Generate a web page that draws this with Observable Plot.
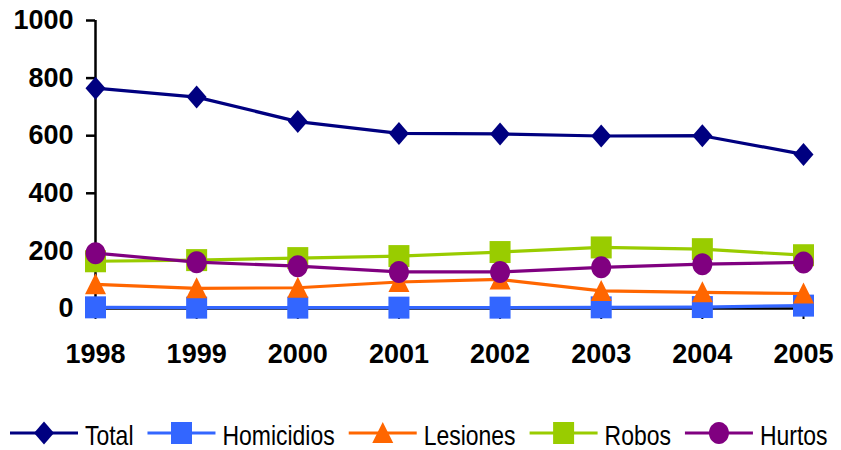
<!DOCTYPE html>
<html>
<head>
<meta charset="utf-8">
<script src="https://cdn.jsdelivr.net/npm/d3@7"></script>
<script src="https://cdn.jsdelivr.net/npm/@observablehq/plot@0.6"></script>
<style>
  html, body { margin: 0; padding: 0; background: #fff; }
  #chart { width: 841px; height: 450px; overflow: hidden; }
  #chart svg { display: block; }
</style>
</head>
<body>
<div id="chart"></div>
<script>
const years = [1998, 1999, 2000, 2001, 2002, 2003, 2004, 2005];
const seriesNames = ["Total", "Homicidios", "Lesiones", "Robos", "Hurtos"];
const total      = [765, 734, 649, 608, 606, 599, 600, 535];
const homicidios = [4, 3, 3, 3, 3, 4, 5, 10];
const lesiones   = [84, 70, 72, 92, 101, 61, 56, 52];
const robos      = [164, 168, 175, 182, 196, 212, 206, 185];
const hurtos     = [192, 161, 147, 127, 127, 143, 154, 160];
const yTicks = [0, 200, 400, 600, 800, 1000];

const seriesValues = [total, homicidios, lesiones, robos, hurtos];
const colors = ["#000080", "#3366FF", "#FF6600", "#99CC00", "#800080"];

// custom marker shapes (slightly taller than wide, as in the original)
const diamond = { draw(c) { c.moveTo(0, -11.5); c.lineTo(10, 0); c.lineTo(0, 11.5); c.lineTo(-10, 0); c.closePath(); } };
const square = { draw(c) { c.rect(-10.5, -11, 21, 22); } };
const triangle = { draw(c) { c.moveTo(0, -11); c.lineTo(10.5, 10); c.lineTo(-10.5, 10); c.closePath(); } };
const ellipse = { draw(c) {
  const rx = 10, ry = 11, k = 0.5523;
  c.moveTo(rx, 0);
  c.bezierCurveTo(rx, ry * k, rx * k, ry, 0, ry);
  c.bezierCurveTo(-rx * k, ry, -rx, ry * k, -rx, 0);
  c.bezierCurveTo(-rx, -ry * k, -rx * k, -ry, 0, -ry);
  c.bezierCurveTo(rx * k, -ry, rx, -ry * k, rx, 0);
  c.closePath();
} };
const symbols = [diamond, square, triangle, square, ellipse];

const rows = seriesNames.map((name, i) => years.map((year, j) => ({ name, year, value: seriesValues[i][j] })));

const marks = [
  Plot.ruleY([0], { x1: years[0], x2: years[years.length - 1], stroke: "#000", strokeWidth: 2.5 }),
  Plot.ruleX([years[0]], { y1: 0, y2: 1000, stroke: "#000", strokeWidth: 2.5 }),
  Plot.axisY({ ticks: yTicks, tickSize: 9, tickPadding: 13, tickFormat: d => String(d), strokeWidth: 2.5, fill: "#000", stroke: "#000", label: null }),
  Plot.axisX({ ticks: years, tickSize: 11, tickPadding: 24, tickFormat: d => String(d), strokeWidth: 2, fill: "#000", stroke: "#000", label: null })
];
rows.forEach((data, i) => {
  marks.push(Plot.line(data, { x: "year", y: "value", stroke: colors[i], strokeWidth: 3.2 }));
  marks.push(Plot.dot(data, { x: "year", y: "value", symbol: symbols[i], r: 10, fill: colors[i], stroke: "none" }));
});

const chart = Plot.plot({
  width: 841,
  height: 390,
  marginTop: 20,
  marginBottom: 82,
  marginLeft: 95,
  marginRight: 38,
  x: { domain: [years[0], years[years.length - 1]], axis: null },
  y: { domain: [0, 1000], axis: null },
  style: { fontFamily: "'Liberation Sans', Arial, sans-serif", fontSize: "27px", fontWeight: "bold", color: "#000", background: "#fff", overflow: "visible" },
  marks
});
const host = document.getElementById("chart");
host.appendChild(chart);

// legend (condensed text, as in the original)
const ns = "http://www.w3.org/2000/svg";
const leg = document.createElementNS(ns, "svg");
leg.setAttribute("width", 841);
leg.setAttribute("height", 60);
leg.style.fontFamily = "'Liberation Sans', Arial, sans-serif";
leg.style.fontSize = "28px";
host.appendChild(leg);
const squeeze = 0.82, cy = 45, lineW = 68, textGap = 7, itemGap = 14;
let cx = 10;
seriesNames.forEach((name, i) => {
  const line = document.createElementNS(ns, "line");
  line.setAttribute("x1", cx); line.setAttribute("x2", cx + lineW);
  line.setAttribute("y1", cy - 2); line.setAttribute("y2", cy - 2);
  line.setAttribute("stroke", colors[i]); line.setAttribute("stroke-width", 3.2);
  leg.appendChild(line);
  const p = d3.path(); symbols[i].draw(p);
  const path = document.createElementNS(ns, "path");
  path.setAttribute("d", p.toString());
  path.setAttribute("transform", `translate(${cx + lineW / 2},${cy - 2})`);
  path.setAttribute("fill", colors[i]);
  leg.appendChild(path);
  const t = document.createElementNS(ns, "text");
  t.textContent = name;
  t.setAttribute("transform", `translate(${cx + lineW + textGap},${cy + 10}) scale(${squeeze},1)`);
  t.setAttribute("fill", "#000");
  leg.appendChild(t);
  const w = t.getComputedTextLength() * squeeze;
  cx += lineW + textGap + w + itemGap;
});
</script>
</body>
</html>
